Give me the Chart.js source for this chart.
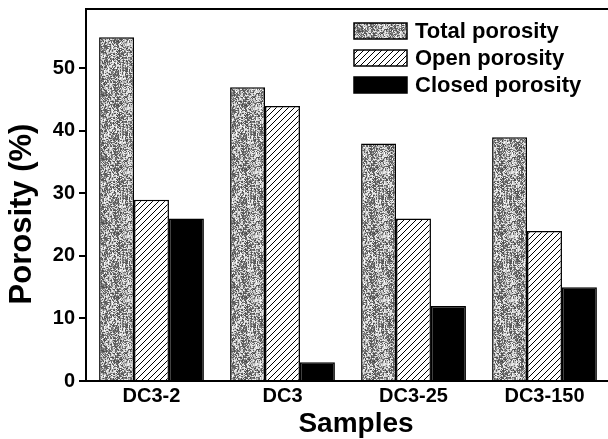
<!DOCTYPE html>
<html>
<head>
<meta charset="utf-8">
<script src="https://cdn.jsdelivr.net/npm/chart.js@4/dist/chart.umd.min.js"></script>
<style>
  html, body { margin: 0; padding: 0; background: #fff; overflow: hidden; }
  #chart { display: block; }
</style>
</head>
<body>
<canvas id="chart" width="612" height="439"></canvas>
<script>
// values
const samples = ['DC3-2', 'DC3', 'DC3-25', 'DC3-150'];
const totalPorosity = [55, 47, 38, 39];
const openPorosity = [29, 44, 26, 24];
const closedPorosity = [26, 3, 12, 15];
const seriesNames = ['Total porosity', 'Open porosity', 'Closed porosity'];
const yTicks = [0, 10, 20, 30, 40, 50];
const xTitle = 'Samples';
const yTitle = 'Porosity (%)';

const FONT = '"Liberation Sans", Arial, sans-serif';

// grainy grey fill (deterministic noise, just a texture)
const makeGrainPattern = (ctx) => {
  const n = 64;
  const c = document.createElement('canvas');
  c.width = n; c.height = n;
  const g = c.getContext('2d');
  const img = g.createImageData(n, n);
  let seed = 98765;
  const rnd = () => { seed = (seed * 1103515245 + 12345) & 0x7fffffff; return seed / 0x7fffffff; };
  for (let i = 0; i < n * n; i++) {
    const x = i % n, y = Math.floor(i / n);
    // slow variation gives darker clumps
    const clump = 0.5 + 0.25 * Math.sin(x * 0.31 + y * 0.17) * Math.cos(y * 0.23 - x * 0.11);
    let v = rnd() < clump ? 70 + rnd() * 60 : 175 + rnd() * 70;
    if (x % 4 === 0 && rnd() > 0.5) v = Math.min(255, v + 40);
    img.data[i * 4] = v; img.data[i * 4 + 1] = v; img.data[i * 4 + 2] = v; img.data[i * 4 + 3] = 255;
  }
  g.putImageData(img, 0, 0);
  return ctx.createPattern(c, 'repeat');
};

// "/" hatching on white
const makeHatchPattern = (ctx) => {
  const s = 6;
  const c = document.createElement('canvas');
  c.width = s; c.height = s;
  const g = c.getContext('2d');
  g.fillStyle = '#fff';
  g.fillRect(0, 0, s, s);
  g.strokeStyle = '#000';
  g.lineWidth = 1;
  g.beginPath();
  g.moveTo(-1, s + 1); g.lineTo(s + 1, -1);
  g.moveTo(-1, 1); g.lineTo(1, -1);
  g.moveTo(s - 1, s + 1); g.lineTo(s + 1, s - 1);
  g.stroke();
  return ctx.createPattern(c, 'repeat');
};

// top frame line, axis titles and the legend inside the plot
const framePlugin = {
  id: 'frame',
  afterDraw(chart) {
    const { ctx, chartArea } = chart;
    ctx.save();
    ctx.strokeStyle = '#000';
    ctx.lineWidth = 2;
    ctx.beginPath();
    ctx.moveTo(chartArea.left, chartArea.top);
    ctx.lineTo(chartArea.right, chartArea.top);
    ctx.stroke();

    // axis titles (sit a little off-centre in the original)
    ctx.fillStyle = '#000';
    ctx.textAlign = 'center';
    ctx.textBaseline = 'middle';
    ctx.font = 'bold 28px ' + FONT;
    ctx.fillText(xTitle, 356, 424);
    ctx.save();
    ctx.translate(22, 214);
    ctx.rotate(-Math.PI / 2);
    ctx.font = 'bold 31px ' + FONT;
    ctx.fillText(yTitle, 0, 0);
    ctx.restore();

    const boxX = 354, boxW = 53, boxH = 16, firstY = 23, rowGap = 27;
    ctx.font = 'bold 22px ' + FONT;
    ctx.textAlign = 'left';
    chart.data.datasets.forEach((ds, i) => {
      const y = firstY + i * rowGap;
      ctx.fillStyle = ds.backgroundColor;
      ctx.fillRect(boxX, y, boxW, boxH);
      ctx.lineWidth = 1.5;
      ctx.strokeStyle = '#000';
      ctx.strokeRect(boxX, y, boxW, boxH);
      ctx.fillStyle = '#000';
      ctx.fillText(ds.label, 415, y + boxH / 2 + 1);
    });
    ctx.restore();
  }
};

const ctx = document.getElementById('chart').getContext('2d');

new Chart(ctx, {
  type: 'bar',
  data: {
    labels: samples,
    datasets: [
      { label: seriesNames[0], data: totalPorosity, backgroundColor: makeGrainPattern(ctx) },
      { label: seriesNames[1], data: openPorosity, backgroundColor: makeHatchPattern(ctx) },
      { label: seriesNames[2], data: closedPorosity, backgroundColor: '#000' }
    ].map(ds => ({ ...ds, borderColor: '#000', borderWidth: 1.5, categoryPercentage: 0.8, barPercentage: 1.0 }))
  },
  options: {
    responsive: false,
    animation: false,
    layout: { padding: { top: 9, right: 2, left: 0, bottom: 0 } },
    plugins: {
      legend: { display: false },
      tooltip: { enabled: false }
    },
    scales: {
      x: {
        grid: { display: false, drawTicks: false },
        border: { display: true, color: '#000', width: 2 },
        ticks: {
          color: '#000',
          padding: 3,
          font: { family: FONT, size: 20, weight: 'bold' }
        },
        afterFit: (scale) => { scale.height = 58; }
      },
      y: {
        min: 0,
        max: 59.5,
        grid: { drawOnChartArea: false, drawTicks: true, tickLength: 7, color: '#000', lineWidth: 2 },
        border: { display: true, color: '#000', width: 2 },
        ticks: {
          color: '#000',
          padding: 4,
          font: { family: FONT, size: 20, weight: 'bold' }
        },
        afterBuildTicks: (scale) => { scale.ticks = yTicks.map(v => ({ value: v })); },
        afterFit: (scale) => {
          scale.width = 86;
          scale.paddingTop = 0;
          scale.paddingBottom = 0;
        }
      }
    }
  },
  plugins: [framePlugin]
});
</script>
</body>
</html>
